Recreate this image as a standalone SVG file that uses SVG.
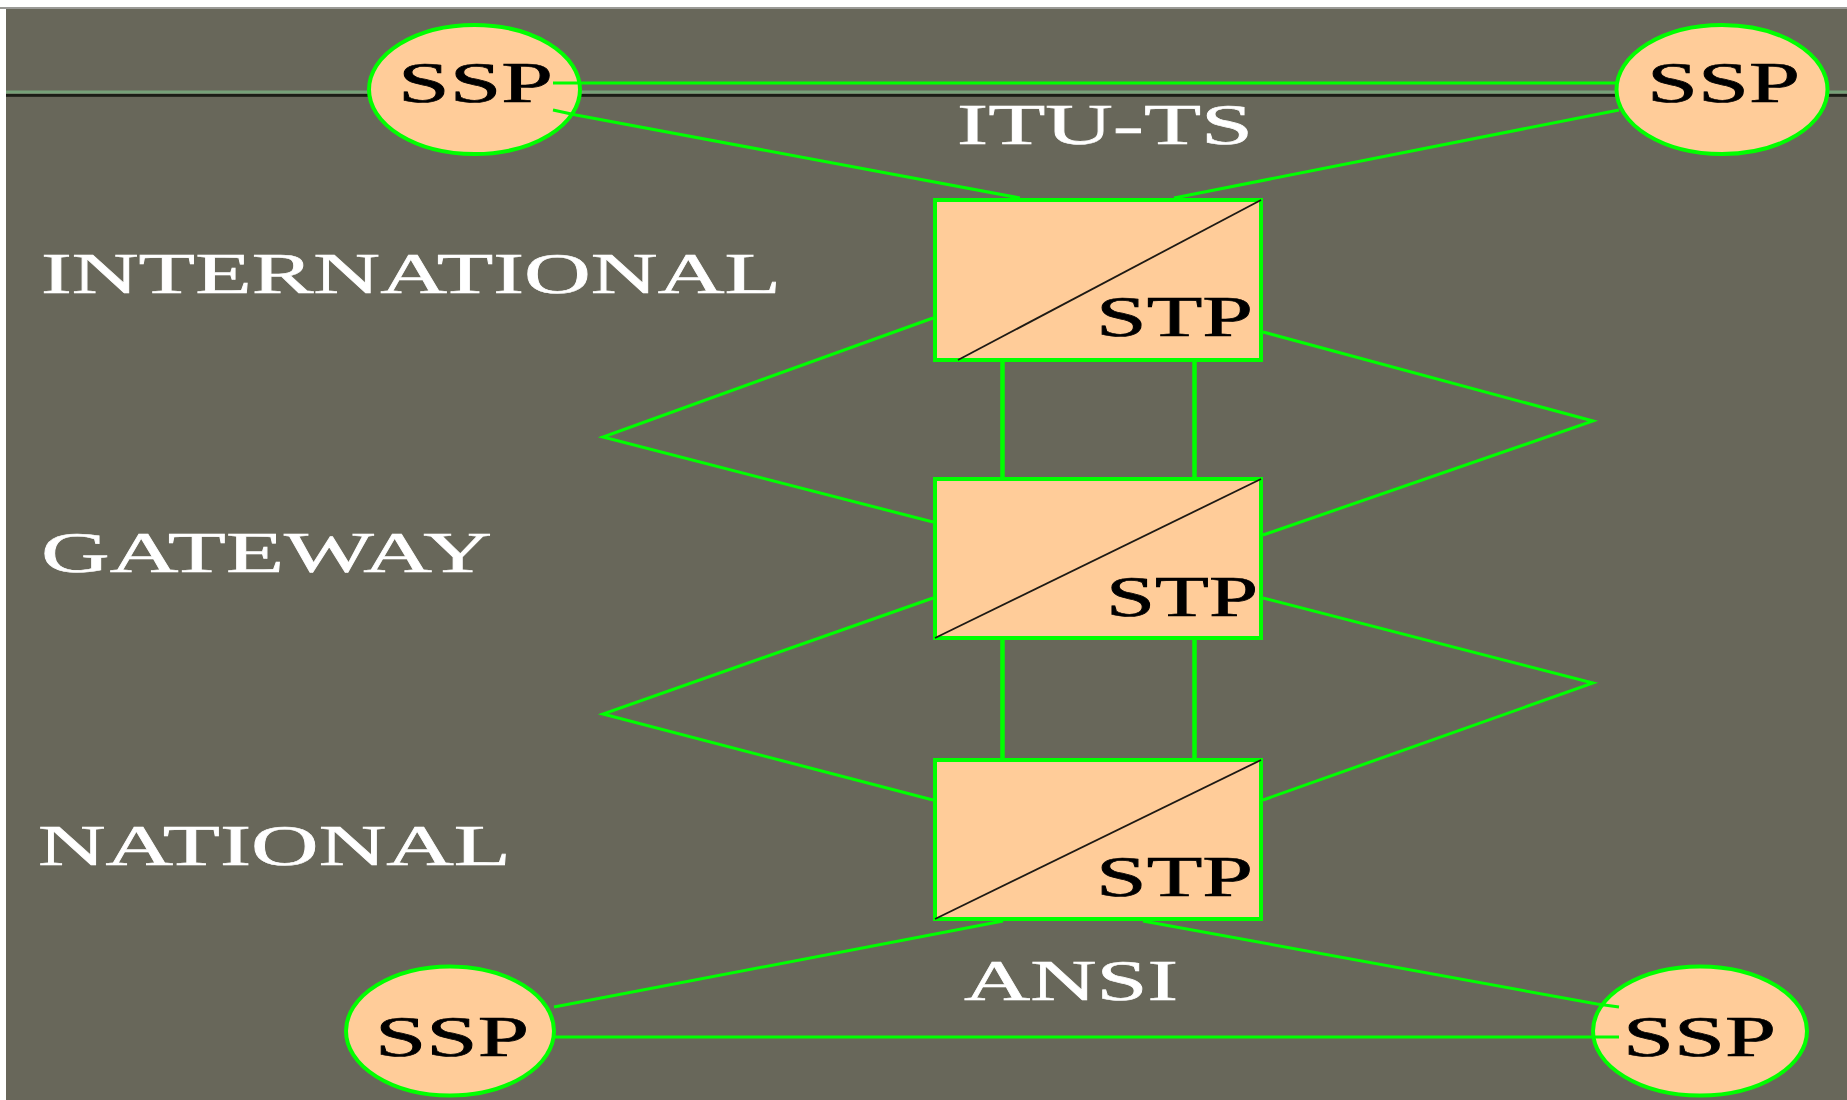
<svg xmlns="http://www.w3.org/2000/svg" width="1847" height="1100" viewBox="0 0 1847 1100">
  <defs>
    <style>
      .ssp { fill: #FFCC99; stroke: #00FF00; stroke-width: 4; }
      .stp { fill: #FFCC99; stroke: #00FF00; stroke-width: 4; }
      .diag { stroke: #1E1A14; stroke-width: 1.8; fill: none; }
      .ntext { font-family: "Liberation Serif", "Times New Roman", serif; font-size: 57px; fill: #000000; stroke: #000000; stroke-width: 0.7; }
      .label { font-family: "Liberation Serif", "Times New Roman", serif; font-size: 57px; fill: #FFFFFF; stroke: #FFFFFF; stroke-width: 0.6; }
      .conn { stroke: #00FF00; stroke-width: 3; fill: none; stroke-linejoin: miter; }
      .thick { stroke: #00FF00; stroke-width: 4.5; fill: none; }
    </style>
  </defs>

  <!-- background -->
  <rect x="0" y="0" width="1847" height="1100" fill="#FFFFFF"/>
  <rect x="6" y="8" width="1841" height="1092" fill="#68675A"/>
  <rect x="0" y="7" width="1847" height="2" fill="#9A9A96"/>

  <!-- background horizontal rule -->
  <rect x="6" y="90.5" width="1841" height="3" fill="#76A078"/>
  <rect x="6" y="94" width="1841" height="2.8" fill="#1C1C16"/>

  <!-- labels -->
  <g id="labels">
    <text class="label" x="41" y="293" textLength="740" lengthAdjust="spacingAndGlyphs">INTERNATIONAL</text>
    <text class="label" x="41" y="572" textLength="451" lengthAdjust="spacingAndGlyphs">GATEWAY</text>
    <text class="label" x="38" y="865" textLength="473" lengthAdjust="spacingAndGlyphs">NATIONAL</text>
    <text class="label" x="957" y="144" textLength="296" lengthAdjust="spacingAndGlyphs">ITU-TS</text>
    <text class="label" x="964" y="1000" textLength="214" lengthAdjust="spacingAndGlyphs">ANSI</text>
  </g>

  <!-- SSP nodes -->
  <g id="ssp-top-left">
    <ellipse class="ssp" cx="474.5" cy="89.5" rx="105.5" ry="64.5"/>
    <text class="ntext" x="398" y="102" textLength="155" lengthAdjust="spacingAndGlyphs">SSP</text>
  </g>
  <g id="ssp-top-right">
    <ellipse class="ssp" cx="1722" cy="89.5" rx="105.5" ry="64.5"/>
    <text class="ntext" x="1647" y="102" textLength="153" lengthAdjust="spacingAndGlyphs">SSP</text>
  </g>
  <g id="ssp-bottom-left">
    <ellipse class="ssp" cx="450" cy="1031" rx="104" ry="64.5"/>
    <text class="ntext" x="375" y="1056" textLength="154" lengthAdjust="spacingAndGlyphs">SSP</text>
  </g>
  <g id="ssp-bottom-right">
    <ellipse class="ssp" cx="1700" cy="1031" rx="107" ry="64.5"/>
    <text class="ntext" x="1623" y="1056" textLength="153" lengthAdjust="spacingAndGlyphs">SSP</text>
  </g>

  <!-- STP nodes -->
  <g id="stp-international">
    <rect class="stp" x="935" y="200" width="326" height="160"/>
    <line class="diag" x1="958" y1="360" x2="1261" y2="200"/>
    <text class="ntext" x="1096" y="336" textLength="157" lengthAdjust="spacingAndGlyphs">STP</text>
  </g>
  <g id="stp-gateway">
    <rect class="stp" x="935" y="479" width="326" height="159"/>
    <line class="diag" x1="935" y1="638" x2="1261" y2="479"/>
    <text class="ntext" x="1106" y="616" textLength="152" lengthAdjust="spacingAndGlyphs">STP</text>
  </g>
  <g id="stp-national">
    <rect class="stp" x="935" y="760" width="326" height="159"/>
    <line class="diag" x1="935" y1="919" x2="1261" y2="760"/>
    <text class="ntext" x="1096" y="896" textLength="157" lengthAdjust="spacingAndGlyphs">STP</text>
  </g>

  <!-- connectors -->
  <g id="connectors">
    <!-- SSP to SSP -->
    <line class="conn" x1="553" y1="83" x2="1616" y2="83" stroke-width="3.2"/>
    <line class="conn" x1="554" y1="1037" x2="1619" y2="1037" stroke-width="3.6"/>
    <!-- SSP to STP (top) -->
    <polyline class="conn" points="553,110 576,115 1020,198"/>
    <line class="conn" x1="1619" y1="110" x2="1174" y2="198"/>
    <!-- SSP to STP (bottom) -->
    <line class="conn" x1="554" y1="1007" x2="1003" y2="921"/>
    <polyline class="conn" points="1143,921 1597,1004 1619,1007"/>
    <!-- vertical STP links -->
    <line class="thick" x1="1002.5" y1="362" x2="1002.5" y2="477"/>
    <line class="thick" x1="1194.5" y1="362" x2="1194.5" y2="477"/>
    <line class="thick" x1="1002.5" y1="640" x2="1002.5" y2="758"/>
    <line class="thick" x1="1194.5" y1="640" x2="1194.5" y2="758"/>
    <!-- left zigzags -->
    <polyline class="conn" points="933,318 603,437 933,522"/>
    <polyline class="conn" points="933,598 603,714 933,800"/>
    <!-- right zigzags -->
    <polyline class="conn" points="1263,332 1593,421 1263,535"/>
    <polyline class="conn" points="1263,598 1593,683 1263,800"/>
  </g>
</svg>
